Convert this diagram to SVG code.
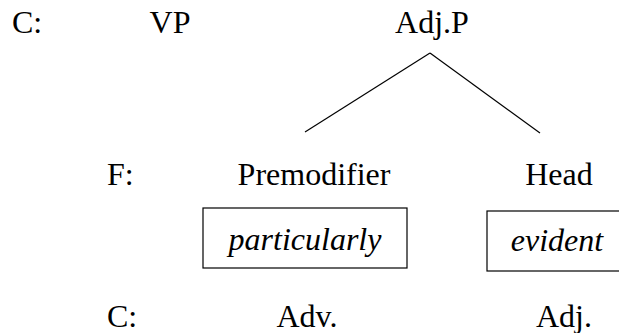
<svg xmlns="http://www.w3.org/2000/svg" width="619" height="333" viewBox="0 0 619 333">
  <rect width="619" height="333" fill="#fff"/>

  <!-- row labels -->
  <g id="labels">
    <text font-family="Liberation Serif" font-size="32" x="12" y="33">C:</text>
    <text font-family="Liberation Serif" font-size="32" x="107" y="185">F:</text>
    <text font-family="Liberation Serif" font-size="32" x="107" y="327">C:</text>
  </g>

  <g id="vp"><text font-family="Liberation Serif" font-size="32" text-anchor="middle" x="170" y="33">VP</text></g>
  <g id="adjp"><text font-family="Liberation Serif" font-size="32" text-anchor="middle" x="432" y="33">Adj.P</text></g>

  <g id="connectors" stroke="#000" stroke-width="1.2" fill="none">
    <line x1="430" y1="53" x2="305" y2="132"/>
    <line x1="430" y1="53" x2="540" y2="133"/>
  </g>

  <g id="premodifier">
    <text font-family="Liberation Serif" font-size="32" text-anchor="middle" x="314" y="185">Premodifier</text>
    <rect x="203" y="208" width="204" height="60" fill="#fff" stroke="#000" stroke-width="1.2"/>
    <text font-family="Liberation Serif" font-size="32" font-style="italic" text-anchor="middle" x="305" y="250">particularly</text>
    <text font-family="Liberation Serif" font-size="32" text-anchor="middle" x="307" y="327">Adv.</text>
  </g>

  <g id="head">
    <text font-family="Liberation Serif" font-size="32" text-anchor="middle" x="559" y="185">Head</text>
    <rect x="487" y="211" width="140" height="60" fill="#fff" stroke="#000" stroke-width="1.2"/>
    <text font-family="Liberation Serif" font-size="32" font-style="italic" text-anchor="middle" x="557" y="251">evident</text>
    <text font-family="Liberation Serif" font-size="32" text-anchor="middle" x="564" y="327">Adj.</text>
  </g>
</svg>
